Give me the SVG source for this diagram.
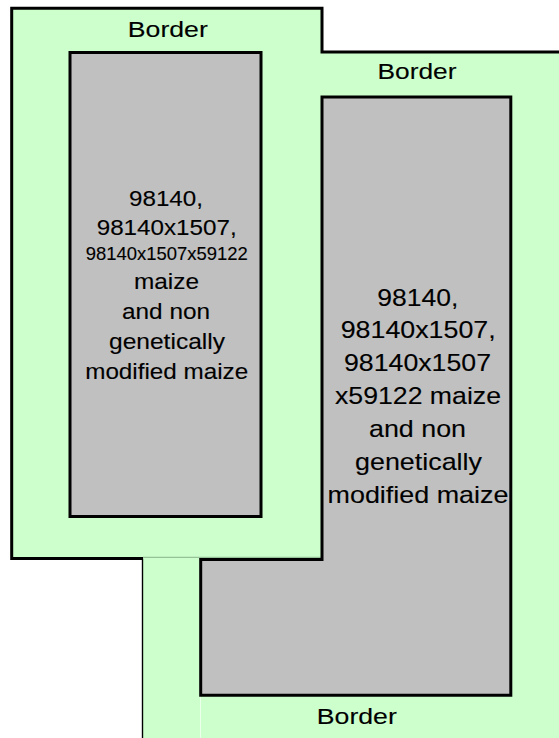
<svg xmlns="http://www.w3.org/2000/svg" width="559" height="738" viewBox="0 0 559 738">
  <style>
    .green { fill: #CCFFCC; stroke: none; }
    .edge { fill: none; stroke: #000; stroke-width: 3; stroke-linejoin: miter; }
    .field { fill: #C0C0C0; stroke: #000; stroke-width: 3; }
    text { font-family: "Liberation Sans", Arial, sans-serif; fill: #000; stroke: #000; stroke-width: 0.12; }
    .lbl { font-size: 21.8px; }
    .l { font-size: 22.2px; }
    .ls { font-size: 17.8px; }
    .r { font-size: 24px; }
  </style>
  <rect width="559" height="738" fill="#FFFFFF"/>
  <g id="border-area">
    <polygon class="green" points="11.7,8.3 322,8.3 322,52 559,52 559,738 143,738 143,558.5 11.7,558.5"/>
    <polyline class="edge" points="143,558.5 11.7,558.5 11.7,8.3 322,8.3 322,52 559,52"/>
    <line x1="142.5" y1="558.5" x2="142.5" y2="738" stroke="#000" stroke-width="1.4"/>
    <line x1="143" y1="557.3" x2="322" y2="557.3" stroke="#6f8f6f" stroke-width="0.7"/>
    <line x1="200.5" y1="697" x2="200.5" y2="738" stroke="#F2FFF2" stroke-width="0.8"/>
  </g>
  <g id="field-left">
    <rect class="field" x="70" y="52.5" width="191" height="464"/>
    <text class="l" x="129" y="205.5" textLength="74" lengthAdjust="spacingAndGlyphs">98140,</text>
    <text class="l" x="96.7" y="235" textLength="140" lengthAdjust="spacingAndGlyphs">98140x1507,</text>
    <text class="ls" x="85.7" y="260" textLength="162" lengthAdjust="spacingAndGlyphs">98140x1507x59122</text>
    <text class="l" x="134" y="289" textLength="65" lengthAdjust="spacingAndGlyphs">maize</text>
    <text class="l" x="122" y="319" textLength="88" lengthAdjust="spacingAndGlyphs">and non</text>
    <text class="l" x="109" y="349" textLength="116" lengthAdjust="spacingAndGlyphs">genetically</text>
    <text class="l" x="85.2" y="378.5" textLength="163" lengthAdjust="spacingAndGlyphs">modified maize</text>
  </g>
  <g id="field-right">
    <polygon class="field" points="322,97 510.8,97 510.8,695.3 200.7,695.3 200.7,559.5 322,559.5"/>
    <text class="r" x="377.3" y="305.5" textLength="81" lengthAdjust="spacingAndGlyphs">98140,</text>
    <text class="r" x="340.7" y="338.3" textLength="155" lengthAdjust="spacingAndGlyphs">98140x1507,</text>
    <text class="r" x="344" y="371" textLength="147" lengthAdjust="spacingAndGlyphs">98140x1507</text>
    <text class="r" x="335" y="404.3" textLength="166" lengthAdjust="spacingAndGlyphs">x59122 maize</text>
    <text class="r" x="369" y="437.3" textLength="97" lengthAdjust="spacingAndGlyphs">and non</text>
    <text class="r" x="355" y="470" textLength="127" lengthAdjust="spacingAndGlyphs">genetically</text>
    <text class="r" x="327.5" y="503.3" textLength="181" lengthAdjust="spacingAndGlyphs">modified maize</text>
  </g>
  <g id="labels">
    <text class="lbl" x="127.8" y="37" textLength="80" lengthAdjust="spacingAndGlyphs">Border</text>
    <text class="lbl" x="377.5" y="79.3" textLength="79" lengthAdjust="spacingAndGlyphs">Border</text>
    <text class="lbl" x="316.8" y="724" textLength="80" lengthAdjust="spacingAndGlyphs">Border</text>
  </g>
</svg>
